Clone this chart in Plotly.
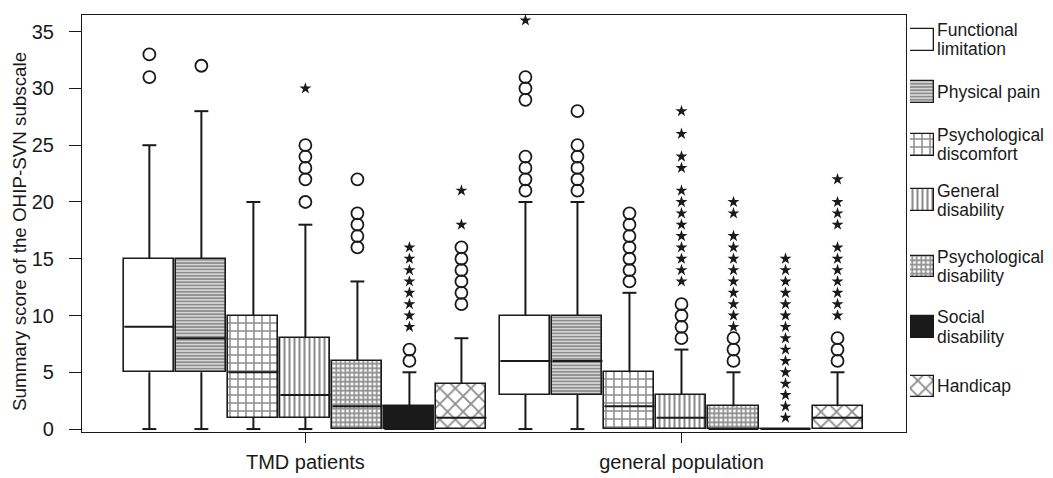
import plotly.graph_objects as go

# ---------------- data ----------------
groups = ["TMD patients", "general population"]
subscales = ["Functional limitation", "Physical pain", "Psychological discomfort",
             "General disability", "Psychological disability", "Social disability", "Handicap"]
legend_lines = [["Functional", "limitation"], ["Physical pain"], ["Psychological", "discomfort"],
                ["General", "disability"], ["Psychological", "disability"], ["Social", "disability"],
                ["Handicap"]]
y_title = "Summary score of the OHIP-SVN subscale"

# TMD patients
q1_tmd = [5, 5, 1, 1, 0, 0, 0]
med_tmd = [9, 8, 5, 3, 2, 0, 1]
q3_tmd = [15, 15, 10, 8, 6, 2, 4]
lo_tmd = [0, 0, 0, 0, 0, 0, 0]
hi_tmd = [25, 28, 20, 18, 13, 5, 8]
circ_tmd = [[31, 33], [32], [], [20, 22, 23, 24, 25], [16, 17, 18, 19, 22], [6, 7],
            [11, 12, 13, 14, 15, 16]]
star_tmd = [[], [], [], [30], [], [9, 10, 11, 12, 13, 14, 15, 16], [18, 21]]

# general population
q1_gp = [3, 3, 0, 0, 0, 0, 0]
med_gp = [6, 6, 2, 1, 0, 0, 1]
q3_gp = [10, 10, 5, 3, 2, 0, 2]
lo_gp = [0, 0, 0, 0, 0, 0, 0]
hi_gp = [20, 20, 12, 7, 5, 0, 5]
circ_gp = [[21, 22, 23, 24, 29, 30, 31], [21, 22, 23, 24, 25, 28], [13, 14, 15, 16, 17, 18, 19],
           [8, 9, 10, 11], [6, 7, 8], [], [6, 7, 8]]
star_gp = [[36], [], [], [13, 14, 15, 16, 17, 18, 19, 20, 21, 23, 24, 26, 28],
           [9, 10, 11, 12, 13, 14, 15, 16, 17, 19, 20],
           [1, 2, 3, 4, 5, 6, 7, 8, 9, 10, 11, 12, 13, 14, 15],
           [10, 11, 12, 13, 14, 15, 16, 18, 19, 20, 22]]

yticks = [0, 5, 10, 15, 20, 25, 30, 35]

# ---------------- styles ----------------
FONT = "Liberation Sans, Arial, sans-serif"
INK = "#1a1a1a"
patterns = [
    dict(shape=""),
    dict(shape="-", size=3.2, solidity=0.68, fgcolor=INK, bgcolor="white"),
    dict(shape="+", size=8, solidity=0.35, fgcolor=INK, bgcolor="white"),
    dict(shape="|", size=5, solidity=0.42, fgcolor=INK, bgcolor="white"),
    dict(shape="+", size=4.5, solidity=0.6, fgcolor=INK, bgcolor="white"),
    dict(shape=""),
    dict(shape="x", size=11, solidity=0.3, fgcolor=INK, bgcolor="white"),
]
fills = ["white", "white", "white", "white", "white", INK, "white"]

SLOT = 0.1383
BOXW = 0.133
CAPW = 0.037

fig = go.Figure()

stats = [(q1_tmd, med_tmd, q3_tmd, lo_tmd, hi_tmd, circ_tmd, star_tmd),
         (q1_gp, med_gp, q3_gp, lo_gp, hi_gp, circ_gp, star_gp)]

wx, wy, mx, my, cx, cy, sx, sy = [], [], [], [], [], [], [], []
for k, name in enumerate(subscales):
    xs, bases, heights = [], [], []
    for g, (q1, med, q3, lo, hi, circ, star) in enumerate(stats):
        x = g + (k - 3) * SLOT
        xs.append(x)
        bases.append(q1[k])
        heights.append(q3[k] - q1[k])
        if hi[k] > q3[k]:
            wx += [x, x, None, x - CAPW / 2, x + CAPW / 2, None]
            wy += [q3[k], hi[k], None, hi[k], hi[k], None]
        if lo[k] < q1[k]:
            wx += [x, x, None, x - CAPW / 2, x + CAPW / 2, None]
            wy += [q1[k], lo[k], None, lo[k], lo[k], None]
        mx += [x - BOXW / 2, x + BOXW / 2, None]
        my += [med[k], med[k], None]
        for v in circ[k]:
            cx.append(x)
            cy.append(v)
        for v in star[k]:
            sx.append(x)
            sy.append(v)
    fig.add_trace(go.Bar(
        x=xs, y=heights, base=bases, width=BOXW, name=name, showlegend=False,
        marker=dict(color=fills[k], pattern=patterns[k], line=dict(color=INK, width=1.6)),
    ))

fig.add_trace(go.Scatter(x=wx, y=wy, mode="lines", line=dict(color=INK, width=2),
                         showlegend=False, hoverinfo="skip"))
fig.add_trace(go.Scatter(x=mx, y=my, mode="lines", line=dict(color=INK, width=2),
                         showlegend=False, hoverinfo="skip"))
fig.add_trace(go.Scatter(x=cx, y=cy, mode="markers",
                         marker=dict(symbol="circle-open", size=12, color=INK, line=dict(width=1.8)),
                         showlegend=False))
fig.add_trace(go.Scatter(x=sx, y=sy, mode="markers",
                         marker=dict(symbol="star", size=9, color=INK, line=dict(width=0)),
                         showlegend=False))

# ---------------- custom legend (swatches on a hidden axis) ----------------
legend_centers = [40, 93, 146, 202, 269, 330, 390]   # rows in page pixels
SW_H = 22
LINE_GAP = 19.5
for k, name in enumerate(subscales):
    c = legend_centers[k]
    fig.add_trace(go.Bar(
        x=[0.5], y=[SW_H], base=[c - SW_H / 2], width=1, xaxis="x2", yaxis="y2",
        showlegend=False, hoverinfo="skip",
        marker=dict(color=fills[k], pattern=patterns[k], line=dict(color=INK, width=1.3)),
    ))
    lines = legend_lines[k]
    n = len(lines)
    for i, t in enumerate(lines):
        yy = c + (i - (n - 1) / 2) * LINE_GAP
        fig.add_annotation(text=t, xref="paper", yref="y2", x=(935 - 82) / 966, y=yy,
                           xanchor="left", yanchor="middle", showarrow=False,
                           font=dict(family=FONT, size=17.5, color=INK))

# y-axis title as a rotated annotation (placed slightly below the plot centre, as in the reference)
fig.add_annotation(text=y_title, textangle=-90, xref="paper", yref="y2",
                   x=(20 - 82) / 966, y=234, xanchor="center", yanchor="middle",
                   showarrow=False, font=dict(family=FONT, size=18.8, color=INK))

# page is rendered with an 8px body margin, so the figure is 8px smaller
fig.update_layout(
    width=1045, height=470,
    margin=dict(l=74, r=5, t=7, b=42),
    paper_bgcolor="white", plot_bgcolor="white",
    barmode="overlay", bargap=0,
    font=dict(family=FONT, color=INK),
    xaxis=dict(domain=[0, (906 - 82) / 966], range=[-0.594, 1.597],
               tickmode="array", tickvals=[0, 1], ticktext=groups,
               ticks="outside", ticklen=10, tickwidth=1.2, tickcolor=INK,
               ticklabelstandoff=2,
               showline=True, mirror=True, linecolor=INK, linewidth=1.2,
               showgrid=False, zeroline=False, tickfont=dict(size=20)),
    yaxis=dict(range=[-0.26, 36.47], tickmode="array", tickvals=yticks,
               ticks="outside", ticklen=12, tickwidth=1.2, tickcolor=INK,
               ticklabelstandoff=11,
               showline=True, mirror=True, linecolor=INK, linewidth=1.2,
               showgrid=False, zeroline=False, tickfont=dict(size=20)),
    xaxis2=dict(domain=[(910 - 82) / 966, (934 - 82) / 966], range=[0, 1],
                visible=False, anchor="y2"),
    yaxis2=dict(domain=[0, 1], range=[436, 15], visible=False, anchor="x2"),
)

fig.write_html("out.html")
